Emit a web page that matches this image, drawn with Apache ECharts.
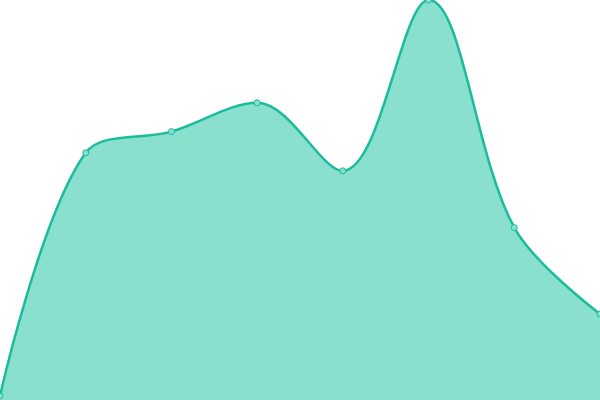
<!DOCTYPE html>
<html>
<head>
<meta charset="utf-8">
<script src="https://cdn.jsdelivr.net/npm/echarts@6/dist/echarts.min.js"></script>
<style>
  html, body { margin: 0; padding: 0; background: #fff; }
  #chart { width: 600px; height: 400px; }
</style>
</head>
<body>
<div id="chart"></div>
<script>
// 8 points, no axes shown
var categories = ['1', '2', '3', '4', '5', '6', '7', '8'];
var values = [1, 61.8, 67.1, 74.3, 57.3, 100, 43.1, 21.5];

var chart = echarts.init(document.getElementById('chart'));

chart.setOption({
  animation: false,
  grid: { top: 0, right: 0, bottom: 0, left: 0 },
  xAxis: {
    type: 'category',
    data: categories,
    boundaryGap: false,
    show: false
  },
  yAxis: {
    type: 'value',
    min: 0,
    max: 100,
    show: false
  },
  series: [{
    type: 'line',
    data: values,
    smooth: 0.35,
    symbol: 'circle',
    symbolSize: 6,
    lineStyle: { color: '#1abc9c', width: 2.5 },
    itemStyle: { color: '#8ae0cf', borderColor: '#1abc9c', borderWidth: 1 },
    areaStyle: { color: '#8ae0cf', opacity: 1 }
  }]
});
</script>
</body>
</html>
